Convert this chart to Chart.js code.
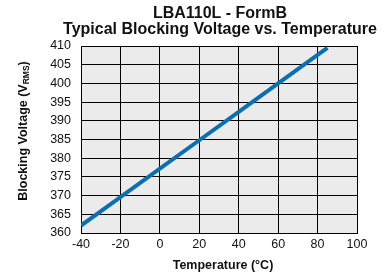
<!DOCTYPE html>
<html>
<head>
<meta charset="utf-8">
<script src="https://cdn.jsdelivr.net/npm/chart.js@4"></script>
<style>
  html, body { margin: 0; padding: 0; background: #fff; }
  #wrap { width: 384px; height: 274px; }
</style>
</head>
<body>
<div id="wrap"><canvas id="chart" width="384" height="274"></canvas></div>
<script>
( function () {
    'use strict';

    var temps   = [ -40, -20, 0, 20, 40, 60, 80, 85 ];
    var voltage = [ 362, 369.6, 377.2, 384.8, 392.4, 400, 407.6, 409.5 ];
    var xTicks  = [ -40, -20, 0, 20, 40, 60, 80, 100 ];
    var yTicks  = [ 360, 365, 370, 375, 380, 385, 390, 395, 400, 405, 410 ];

    var fontFam = '"Liberation Sans", Arial, Helvetica, sans-serif';

    var points = temps.map( function ( t, i ) { return { x: t, y: voltage[ i ] }; } );

    var textPlugin = {
        id: 'texts',
        beforeDraw: function ( chart ) {
            var a = chart.chartArea, c = chart.ctx;
            c.save();
            c.fillStyle = '#ebebeb';
            c.fillRect( a.left, a.top, a.right - a.left, a.bottom - a.top );
            c.restore();
        },
        afterDraw: function ( chart ) {
            var a = chart.chartArea, c = chart.ctx;
            var cx = ( a.left + a.right ) / 2;
            c.save();
            c.fillStyle = '#111';
            c.textAlign = 'center';
            c.textBaseline = 'middle';
            c.font = 'bold 16px ' + fontFam;
            c.fillText( 'LBA110L - FormB', cx + 1, 14 );
            c.fillText( 'Typical Blocking Voltage vs. Temperature', cx + 1, 30 );

            // x axis title
            c.font = 'bold 12.5px ' + fontFam;
            c.fillText( 'Temperature (\u00B0C)', cx + 4, 266 );

            // y axis title with subscript
            c.translate( 24, 131 );
            c.rotate( -Math.PI / 2 );
            var main = 'Blocking Voltage (V';
            var sub = 'RMS';
            c.font = 'bold 12.5px ' + fontFam;
            var w1 = c.measureText( main ).width;
            var w3 = c.measureText( ')' ).width;
            c.font = 'bold 8.5px ' + fontFam;
            var w2 = c.measureText( sub ).width;
            var x0 = -( w1 + w2 + w3 ) / 2;
            c.textAlign = 'left';
            c.font = 'bold 12.5px ' + fontFam;
            c.fillText( main, x0, 0 );
            c.font = 'bold 8.5px ' + fontFam;
            c.fillText( sub, x0 + w1, 3 );
            c.font = 'bold 12.5px ' + fontFam;
            c.fillText( ')', x0 + w1 + w2, 0 );
            c.restore();
        }
    };

    new Chart( document.getElementById( 'chart' ), {
        type: 'scatter',
        data: {
            datasets: [ {
                data: points,
                showLine: true,
                borderColor: '#0a6fb3',
                borderWidth: 4,
                pointRadius: 0,
                fill: false,
                tension: 0
            } ]
        },
        options: {
            responsive: false,
            animation: false,
            events: [],
            layout: { padding: { left: 0, top: 46, right: 27, bottom: 0 } },
            plugins: { legend: { display: false }, tooltip: { enabled: false } },
            scales: {
                x: {
                    type: 'linear',
                    min: -40,
                    max: 100,
                    afterBuildTicks: function ( s ) {
                        s.ticks = xTicks.map( function ( v ) { return { value: v }; } );
                    },
                    afterFit: function ( s ) { s.height = 41; },
                    grid: { color: '#000', lineWidth: 1, drawTicks: false },
                    border: { color: '#000', width: 1 },
                    ticks: {
                        color: '#111',
                        padding: 4,
                        maxRotation: 0,
                        font: { family: fontFam, size: 12.5 }
                    }
                },
                y: {
                    type: 'linear',
                    min: 360,
                    max: 410,
                    afterBuildTicks: function ( s ) {
                        s.ticks = yTicks.map( function ( v ) { return { value: v }; } );
                    },
                    afterFit: function ( s ) { s.width = 81; },
                    grid: { color: '#000', lineWidth: 1, drawTicks: false },
                    border: { color: '#000', width: 1 },
                    ticks: {
                        color: '#111',
                        padding: 10,
                        font: { family: fontFam, size: 12.5 }
                    }
                }
            }
        },
        plugins: [ textPlugin ]
    } );
} )();
</script>
</body>
</html>
